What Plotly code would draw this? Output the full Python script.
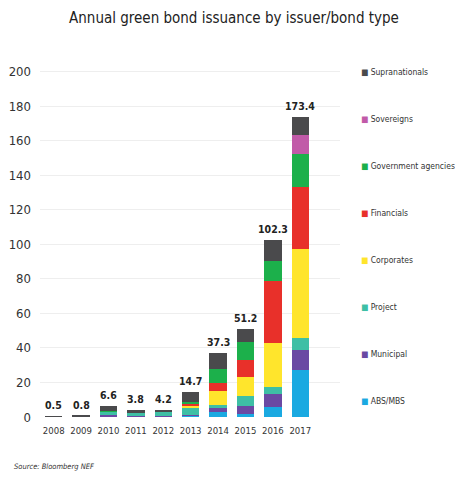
import plotly.graph_objects as go

years = ["2008", "2009", "2010", "2011", "2012", "2013", "2014", "2015", "2016", "2017"]
totals = [0.5, 0.8, 6.6, 3.8, 4.2, 14.7, 37.3, 51.2, 102.3, 173.4]

abs_mbs = [0, 0, 0.3, 0, 0, 0.7, 2.9, 2.0, 5.8, 27.4]
municipal = [0, 0, 1.0, 0.3, 0.4, 0.2, 2.5, 4.4, 7.8, 11.2]
project = [0, 0, 2.0, 2.5, 2.6, 4.5, 1.3, 5.8, 3.5, 7.1]
corporates = [0, 0, 0, 0, 0, 1.5, 8.6, 11.2, 25.6, 51.8]
financials = [0, 0, 0, 0, 0, 0.8, 4.4, 9.4, 35.8, 35.7]
gov_agencies = [0, 0, 0.3, 0, 0, 1.2, 8.0, 10.8, 11.7, 18.9]
sovereigns = [0, 0, 0, 0, 0, 0, 0, 0, 0, 11.0]
supranationals = [0.5, 0.8, 3.0, 1.0, 1.2, 5.8, 9.6, 7.6, 12.1, 10.3]

series = [
    ("ABS/MBS", abs_mbs, "#1aa9e1"),
    ("Municipal", municipal, "#6a49a3"),
    ("Project", project, "#3ebfa5"),
    ("Corporates", corporates, "#ffe52c"),
    ("Financials", financials, "#e8302a"),
    ("Government agencies", gov_agencies, "#1cb04b"),
    ("Sovereigns", sovereigns, "#c15aa8"),
    ("Supranationals", supranationals, "#4a4a4c"),
]

FONT = "DejaVu Sans Condensed, sans-serif"

# figure is drawn inside the page's default 8px body margin
W, H = 455, 471
L, R, T, B = 32, 123, 60, 62
PW, PH = W - L - R, H - T - B

fig = go.Figure()
for name, vals, color in series:
    fig.add_trace(go.Bar(x=years, y=vals, name=name, marker_color=color,
                         marker_line_width=0, showlegend=False))

annotations = []
# totals above the bars (x given as category index)
for i, t in enumerate(totals):
    annotations.append(dict(x=i, y=t, xref="x", yref="y", text=f"{t:.1f}",
                            yanchor="bottom", yshift=3, showarrow=False,
                            font=dict(family=FONT, size=10.5, color="#222", weight="bold")))

# legend (top to bottom: Supranationals ... ABS/MBS)
top_y, step = 63.7, 47.0
for i, (name, vals, color) in enumerate(reversed(series)):
    yf = top_y + i * step
    annotations.append(dict(
        text=f"<span style='color:{color}'>■</span> {name}",
        xref="paper", yref="paper", x=(351 - L) / PW, y=(H - B - yf) / PH,
        xanchor="left", yanchor="middle", showarrow=False,
        font=dict(family=FONT, size=8.5, color="#333")))

annotations.append(dict(text="<i>Source: Bloomberg NEF</i>", xref="paper", yref="paper",
                        x=(4 - L) / PW, y=(H - B - 458) / PH,
                        xanchor="left", yanchor="middle", showarrow=False,
                        font=dict(family=FONT, size=7.5, color="#333")))

fig.update_layout(
    width=W, height=H,
    barmode="stack", bargap=0.36,
    paper_bgcolor="white", plot_bgcolor="white",
    margin=dict(l=L, r=R, t=T, b=B, autoexpand=False),
    title=dict(text="Annual green bond issuance by issuer/bond type",
               x=226 / W, xanchor="center", y=1 - 10 / H, yanchor="middle",
               font=dict(family=FONT, size=15, color="#222")),
    font=dict(family=FONT, size=12, color="#333"),
    showlegend=False,
    xaxis=dict(type="category", range=[-0.5, 10.45], showgrid=False, automargin=False,
               showline=False, ticks="", tickangle=0, ticklabelstandoff=6,
               tickfont=dict(size=9.5, color="#333")),
    yaxis=dict(range=[0, 202], tickvals=[0, 20, 40, 60, 80, 100, 120, 140, 160, 180, 200],
               showgrid=True, gridcolor="#eeeeee", gridwidth=1, zeroline=False,
               automargin=False, showline=False, ticks="", ticklabelstandoff=8,
               tickfont=dict(size=13, color="#333")),
    annotations=annotations,
)

fig.write_html("out.html")
